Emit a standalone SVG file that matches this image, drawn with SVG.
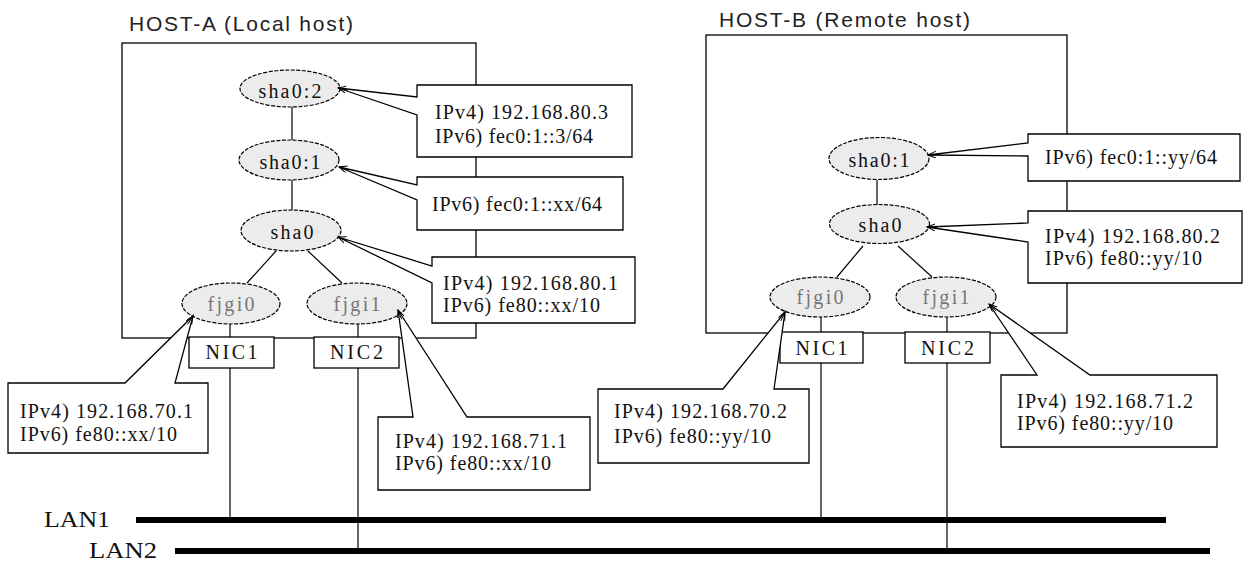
<svg xmlns="http://www.w3.org/2000/svg" width="1244" height="569" viewBox="0 0 1244 569">
<style>
.host{fill:none;stroke:#000;stroke-width:1.3}
.ttl{font-family:"Liberation Sans",Arial,sans-serif;font-size:21px;fill:#222}
.ell{fill:#ececec;stroke:#000;stroke-width:1.2;stroke-dasharray:4 1.5}
.nl{font-family:"Liberation Serif","Times New Roman",serif;font-size:20px;fill:#111;text-anchor:middle}
.gl{font-family:"Liberation Serif","Times New Roman",serif;font-size:20px;fill:#777;text-anchor:middle}
.nic{fill:#fff;stroke:#000;stroke-width:1.3}
.nicl{font-family:"Liberation Serif","Times New Roman",serif;font-size:20px;fill:#111;text-anchor:middle}
.co{fill:#fff;stroke:#000;stroke-width:1.3;stroke-linejoin:miter}
.ct{font-family:"Liberation Serif","Times New Roman",serif;font-size:20px;fill:#111}
.ln{stroke:#000;stroke-width:1.2;fill:none}
.lan{stroke:#000;stroke-width:6}
.lanl{font-family:"Liberation Serif","Times New Roman",serif;font-size:23px;fill:#111}
.ar{stroke:#000;stroke-width:1;fill:none;marker-end:url(#ah)}
</style>
<defs>
<marker id="ah" markerUnits="userSpaceOnUse" markerWidth="9" markerHeight="8" refX="8" refY="3.5" orient="auto">
<path d="M0,0 L8,3.5 L0,7" fill="none" stroke="#000" stroke-width="1"/>
</marker>
</defs>

<!-- Host frames -->
<g id="hostA">
<rect class="host" x="122" y="43" width="354" height="295"/>
<text class="ttl" x="129" y="31" textLength="224" lengthAdjust="spacing">HOST-A (Local host)</text>
</g>
<g id="hostB">
<rect class="host" x="706" y="35" width="361" height="298"/>
<text class="ttl" x="719" y="27" textLength="251" lengthAdjust="spacing">HOST-B (Remote host)</text>
</g>

<!-- LANs -->
<g id="lan1">
<line class="lan" x1="136" y1="520" x2="1166" y2="520"/>
<text class="lanl" x="44" y="527" textLength="66" lengthAdjust="spacingAndGlyphs">LAN1</text>
</g>
<g id="lan2">
<line class="lan" x1="175" y1="551" x2="1210" y2="551"/>
<text class="lanl" x="89" y="558" textLength="68" lengthAdjust="spacingAndGlyphs">LAN2</text>
</g>

<!-- Connectors -->
<g id="connectors">
<line class="ln" x1="292" y1="107" x2="292" y2="140"/>
<line class="ln" x1="292" y1="180" x2="292" y2="210"/>
<line class="ln" x1="276" y1="251" x2="247" y2="283"/>
<line class="ln" x1="308" y1="251" x2="342" y2="283"/>
<line class="ln" x1="230" y1="324" x2="230" y2="337"/>
<line class="ln" x1="358" y1="324" x2="358" y2="337"/>
<line class="ln" x1="230" y1="368" x2="230" y2="520"/>
<line class="ln" x1="358" y1="368" x2="358" y2="551"/>
<line class="ln" x1="877" y1="180" x2="877" y2="205"/>
<line class="ln" x1="863" y1="246" x2="837" y2="277"/>
<line class="ln" x1="898" y1="246" x2="932" y2="277"/>
<line class="ln" x1="821" y1="317" x2="821" y2="332"/>
<line class="ln" x1="947" y1="317" x2="947" y2="332"/>
<line class="ln" x1="821" y1="363" x2="821" y2="520"/>
<line class="ln" x1="947" y1="363" x2="947" y2="551"/>
</g>

<!-- HOST-A nodes -->
<g id="a-sha0-2">
<ellipse class="ell" cx="290" cy="88.5" rx="50" ry="18.5"/>
<text class="nl" x="290" y="98" textLength="63" lengthAdjust="spacing">sha0:2</text>
</g>
<g id="a-sha0-1">
<ellipse class="ell" cx="289" cy="160" rx="50" ry="20"/>
<text class="nl" x="290" y="169" textLength="61" lengthAdjust="spacing">sha0:1</text>
</g>
<g id="a-sha0">
<ellipse class="ell" cx="291" cy="230.5" rx="50" ry="20.5"/>
<text class="nl" x="292" y="239" textLength="43" lengthAdjust="spacing">sha0</text>
</g>
<g id="a-fjgi0">
<ellipse class="ell" cx="231" cy="303.5" rx="49" ry="20.5"/>
<text class="gl" x="231" y="311" textLength="47" lengthAdjust="spacing">fjgi0</text>
</g>
<g id="a-fjgi1">
<ellipse class="ell" cx="357" cy="303.5" rx="50" ry="20.5"/>
<text class="gl" x="357" y="311" textLength="47" lengthAdjust="spacing">fjgi1</text>
</g>
<g id="a-nic1">
<rect class="nic" x="189" y="337" width="85" height="31"/>
<text class="nicl" x="231.5" y="359" textLength="52" lengthAdjust="spacing">NIC1</text>
</g>
<g id="a-nic2">
<rect class="nic" x="314" y="337" width="85" height="31"/>
<text class="nicl" x="356.5" y="359" textLength="53" lengthAdjust="spacing">NIC2</text>
</g>

<!-- HOST-B nodes -->
<g id="b-sha0-1">
<ellipse class="ell" cx="879" cy="158.5" rx="50" ry="21"/>
<text class="nl" x="879" y="167" textLength="61" lengthAdjust="spacing">sha0:1</text>
</g>
<g id="b-sha0">
<ellipse class="ell" cx="879.5" cy="224" rx="50" ry="19.5"/>
<text class="nl" x="880" y="232" textLength="43" lengthAdjust="spacing">sha0</text>
</g>
<g id="b-fjgi0">
<ellipse class="ell" cx="820" cy="297" rx="50" ry="20"/>
<text class="gl" x="820" y="304" textLength="47" lengthAdjust="spacing">fjgi0</text>
</g>
<g id="b-fjgi1">
<ellipse class="ell" cx="946" cy="297" rx="50" ry="20"/>
<text class="gl" x="946" y="304" textLength="47" lengthAdjust="spacing">fjgi1</text>
</g>
<g id="b-nic1">
<rect class="nic" x="780" y="332" width="83" height="31"/>
<text class="nicl" x="821.5" y="355" textLength="52" lengthAdjust="spacing">NIC1</text>
</g>
<g id="b-nic2">
<rect class="nic" x="905" y="332" width="85" height="31"/>
<text class="nicl" x="947.5" y="355" textLength="53" lengthAdjust="spacing">NIC2</text>
</g>

<!-- Callouts HOST-A -->
<g id="callout-a-sha0-2">
<path class="co" d="M417,85 H632 V157 H417 V115 L338,88 L417,97 Z"/>
<line class="ar" x1="348" y1="90" x2="338" y2="88"/>
<text class="ct" x="435" y="119" textLength="173" lengthAdjust="spacing">IPv4) 192.168.80.3</text>
<text class="ct" x="435" y="143" textLength="158" lengthAdjust="spacing">IPv6) fec0:1::3/64</text>
</g>
<g id="callout-a-sha0-1">
<path class="co" d="M417,177 H623 V230 H417 V200 L339,167 L417,185 Z"/>
<line class="ar" x1="348.5" y1="170" x2="339" y2="167"/>
<text class="ct" x="432" y="211" textLength="170" lengthAdjust="spacing">IPv6) fec0:1::xx/64</text>
</g>
<g id="callout-a-sha0">
<path class="co" d="M432,257 H635 V323 H432 V283 L338,237 L432,266 Z"/>
<line class="ar" x1="347.3" y1="240.7" x2="338" y2="237"/>
<text class="ct" x="443" y="290" textLength="175" lengthAdjust="spacing">IPv4) 192.168.80.1</text>
<text class="ct" x="443" y="312" textLength="157" lengthAdjust="spacing">IPv6) fe80::xx/10</text>
</g>
<g id="callout-a-fjgi0">
<path class="co" d="M8,383 H125 L193,316 L175,383 H208 V453 H8 Z"/>
<line class="ar" x1="187.6" y1="324.4" x2="193" y2="316"/>
<text class="ct" x="20" y="418" textLength="173" lengthAdjust="spacing">IPv4) 192.168.70.1</text>
<text class="ct" x="20" y="441" textLength="157" lengthAdjust="spacing">IPv6) fe80::xx/10</text>
</g>
<g id="callout-a-fjgi1">
<path class="co" d="M378,417 H413 L398,310 L467,417 H590 V490 H378 Z"/>
<line class="ar" x1="401.6" y1="319.3" x2="398" y2="310"/>
<text class="ct" x="395" y="448" textLength="172" lengthAdjust="spacing">IPv4) 192.168.71.1</text>
<text class="ct" x="395" y="470" textLength="156" lengthAdjust="spacing">IPv6) fe80::xx/10</text>
</g>

<!-- Callouts HOST-B -->
<g id="callout-b-sha0-1">
<path class="co" d="M1028,134 H1240 V181 H1028 V156 L928,155 L1028,143 Z"/>
<line class="ar" x1="938" y1="154.5" x2="928" y2="155"/>
<text class="ct" x="1045" y="164" textLength="172" lengthAdjust="spacing">IPv6) fec0:1::yy/64</text>
</g>
<g id="callout-b-sha0">
<path class="co" d="M1028,211 H1242 V283 H1028 V242 L927,227 L1028,223 Z"/>
<line class="ar" x1="937" y1="227.5" x2="927" y2="227"/>
<text class="ct" x="1045" y="243" textLength="175" lengthAdjust="spacing">IPv4) 192.168.80.2</text>
<text class="ct" x="1045" y="265" textLength="157" lengthAdjust="spacing">IPv6) fe80::yy/10</text>
</g>
<g id="callout-b-fjgi0">
<path class="co" d="M598,389 H723 L785,312 L774,389 H809 V463 H598 Z"/>
<line class="ar" x1="780.7" y1="321" x2="785" y2="312"/>
<text class="ct" x="614" y="418" textLength="173" lengthAdjust="spacing">IPv4) 192.168.70.2</text>
<text class="ct" x="614" y="443" textLength="157" lengthAdjust="spacing">IPv6) fe80::yy/10</text>
</g>
<g id="callout-b-fjgi1">
<path class="co" d="M1001,375 H1037 L989,304 L1090,375 H1217 V447 H1001 Z"/>
<line class="ar" x1="996.2" y1="310.9" x2="989" y2="304"/>
<text class="ct" x="1017" y="408" textLength="176" lengthAdjust="spacing">IPv4) 192.168.71.2</text>
<text class="ct" x="1017" y="430" textLength="156" lengthAdjust="spacing">IPv6) fe80::yy/10</text>
</g>
</svg>
